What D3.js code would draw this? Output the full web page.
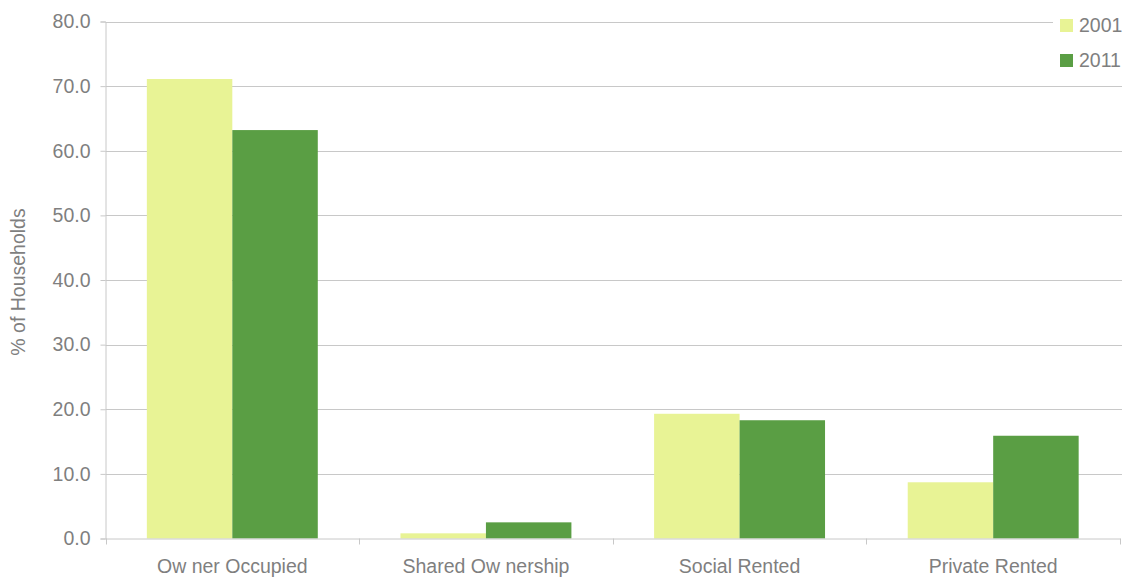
<!DOCTYPE html>
<html>
<head>
<meta charset="utf-8">
<script src="https://d3js.org/d3.v7.min.js"></script>
<style>
  html, body { margin: 0; padding: 0; background: #fff; }
  svg { display: block; font-family: "Liberation Sans", Arial, sans-serif; }
</style>
</head>
<body>
<svg id="chart" width="1125" height="577"></svg>
<script>
const categories = ["Ow ner Occupied", "Shared Ow nership", "Social Rented", "Private Rented"];
const seriesNames = ["2001", "2011"];
const values2001 = [71.1, 0.8, 19.3, 8.7];
const values2011 = [63.2, 2.5, 18.3, 15.9];
const yTicks = [0, 10, 20, 30, 40, 50, 60, 70, 80];
const colors = ["#e8f395", "#5a9e44"];

(function () {
const svg = d3.select("#chart");
const mLeft = 105.5, mRight = 1120, mTop = 21.5, mBottom = 538.5;
const gridColor = "#c8c8c8";
const textColor = "#7f7f7f";
const fs = "19.5px";

const x0 = d3.scaleBand().domain(categories).range([mLeft, mRight]).padding(0);
const groupW = x0.bandwidth() * 0.674;
const x1 = d3.scaleBand().domain(seriesNames).range([0, groupW]).padding(0);
const y = d3.scaleLinear().domain([0, 80]).range([mBottom, mTop]);

// gridlines
svg.append("g").selectAll("line").data(yTicks.filter(d => d > 0)).join("line")
  .attr("x1", mLeft).attr("x2", 1122)
  .attr("y1", d => Math.round(y(d)) + 0.5).attr("y2", d => Math.round(y(d)) + 0.5)
  .attr("stroke", gridColor).attr("stroke-width", 1);

// y axis
const yAxis = svg.append("g").attr("transform", `translate(${mLeft},0)`)
  .call(d3.axisLeft(y).tickValues(yTicks).tickFormat(d3.format(".1f")).tickSize(5).tickPadding(10));
yAxis.select(".domain").attr("stroke", gridColor);
yAxis.selectAll(".tick line").attr("stroke", gridColor);
yAxis.selectAll(".tick text").attr("fill", textColor).style("font-size", fs)
  .style("font-family", "'Liberation Sans', Arial, sans-serif");

// bars
const groups = svg.append("g").selectAll("g").data(categories).join("g")
  .attr("transform", d => `translate(${x0(d) + (x0.bandwidth() - groupW) / 2},0)`);
groups.selectAll("rect").data((d, i) => [
    { s: "2001", v: values2001[i] },
    { s: "2011", v: values2011[i] }
  ]).join("rect")
  .attr("x", d => x1(d.s))
  .attr("width", x1.bandwidth())
  .attr("y", d => y(d.v))
  .attr("height", d => y(0) - y(d.v))
  .attr("fill", (d, i) => colors[i]);

// x axis
const xAxis = svg.append("g").attr("transform", `translate(0,${mBottom})`)
  .call(d3.axisBottom(x0).tickSize(0).tickPadding(21));
xAxis.select(".domain").attr("stroke", gridColor);
xAxis.selectAll(".tick text").attr("fill", textColor).style("font-size", fs)
  .style("font-family", "'Liberation Sans', Arial, sans-serif");
// category boundary ticks
const bounds = categories.map(c => x0(c)).concat([x0(categories[categories.length - 1]) + x0.bandwidth()]);
svg.append("g").selectAll("line").data(bounds).join("line")
  .attr("x1", d => Math.round(d) + 0.5).attr("x2", d => Math.round(d) + 0.5)
  .attr("y1", mBottom).attr("y2", mBottom + 6)
  .attr("stroke", gridColor);

// y title
svg.append("text")
  .attr("transform", `translate(25,${(mTop + mBottom) / 2 + 2}) rotate(-90)`)
  .attr("text-anchor", "middle")
  .attr("fill", textColor)
  .style("font-size", fs)
  .text("% of Households");

// legend
const legend = svg.append("g");
legend.append("rect").attr("x", 1053).attr("y", 8).attr("width", 72).attr("height", 66).attr("fill", "#fff");
seriesNames.forEach((s, i) => {
  const ly = 19 + i * 35;
  legend.append("rect").attr("x", 1060).attr("y", ly).attr("width", 13).attr("height", 13).attr("fill", colors[i]);
  legend.append("text").attr("x", 1079).attr("y", ly + 13).attr("fill", textColor)
    .style("font-size", fs).text(s);
});
})();
</script>
</body>
</html>
